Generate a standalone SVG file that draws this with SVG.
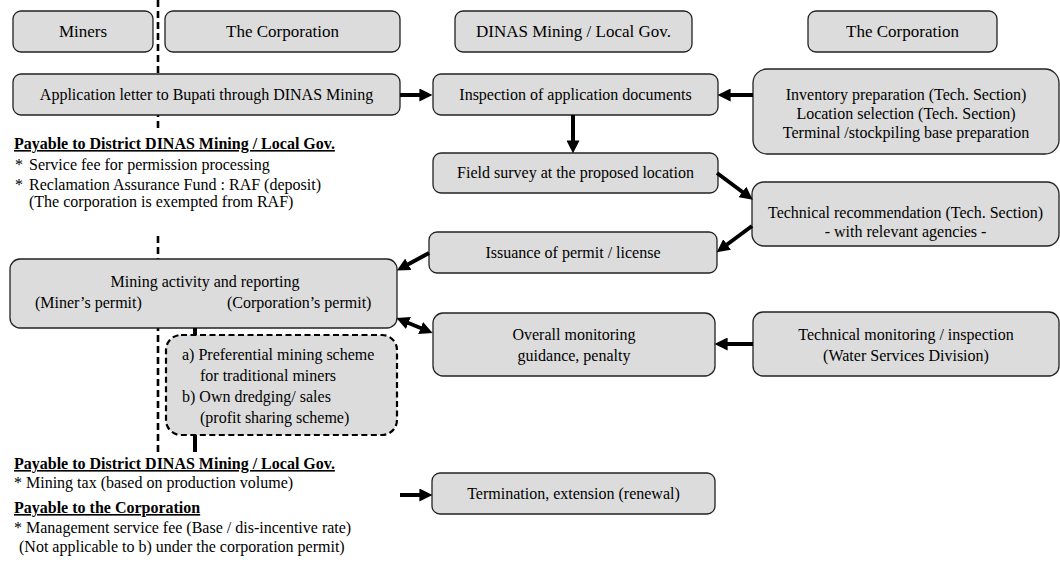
<svg xmlns="http://www.w3.org/2000/svg" width="1060" height="574" viewBox="0 0 1060 574">
  <style>
    .box { fill: #dcdcdc; stroke: #222; stroke-width: 1.3; }
    .dbox { fill: #dcdcdc; stroke: #000; stroke-width: 2.2; stroke-dasharray: 6 3.5; }
    .t { font-family: "Liberation Serif", "Times New Roman", serif; font-size: 16px; fill: #000; }
    .h { font-size: 17px; }
    .c { text-anchor: middle; }
    .u { font-weight: bold; text-decoration: underline; }
    .arrow { stroke: #000; stroke-width: 4; fill: none; }
    .lane { stroke: #000; stroke-width: 2.6; stroke-dasharray: 7 4; fill: none; }
    .bar { stroke: #000; stroke-width: 4; fill: none; }
  </style>
  <defs>
    <marker id="head" viewBox="0 0 10 10" refX="2" refY="5" markerWidth="13" markerHeight="13" markerUnits="userSpaceOnUse" orient="auto-start-reverse">
      <path d="M0,0 L10,5 L0,10 z" fill="#000"/>
    </marker>
  </defs>

  <rect width="1060" height="574" fill="#fff"/>

  <!-- lane divider between miners and the corporation -->
  <g id="lanes">
    <line class="lane" x1="158" y1="0" x2="158" y2="130"/>
    <line class="lane" x1="158" y1="236" x2="158" y2="452"/>
  </g>

  <!-- column headers -->
  <g id="hdr-miners">
    <rect class="box" x="13" y="11" width="140" height="41" rx="8"/>
    <text class="t h c" x="83" y="37">Miners</text>
  </g>
  <g id="hdr-corp-left">
    <rect class="box" x="165" y="11" width="235" height="41" rx="8"/>
    <text class="t h c" x="282.5" y="37">The Corporation</text>
  </g>
  <g id="hdr-dinas">
    <rect class="box" x="455" y="11" width="237" height="41" rx="8"/>
    <text class="t h c" x="573.5" y="37">DINAS Mining / Local Gov.</text>
  </g>
  <g id="hdr-corp-right">
    <rect class="box" x="808" y="11" width="189" height="41" rx="8"/>
    <text class="t h c" x="902.5" y="37">The Corporation</text>
  </g>

  <!-- process steps -->
  <g id="application">
    <rect class="box" x="13" y="74" width="387" height="41" rx="8"/>
    <text class="t c" x="206.5" y="100">Application letter to Bupati through DINAS Mining</text>
  </g>
  <g id="inspection">
    <rect class="box" x="433" y="74" width="285" height="41" rx="8"/>
    <text class="t c" x="575.5" y="100">Inspection of application documents</text>
  </g>
  <g id="inventory">
    <rect class="box" x="753" y="69" width="306" height="85" rx="14"/>
    <text class="t c" x="906" y="100">Inventory preparation (Tech. Section)</text>
    <text class="t c" x="906" y="119">Location selection (Tech. Section)</text>
    <text class="t c" x="906" y="138">Terminal /stockpiling base preparation</text>
  </g>
  <g id="field-survey">
    <rect class="box" x="433" y="153" width="285" height="40" rx="8"/>
    <text class="t c" x="575.5" y="178">Field survey at the proposed location</text>
  </g>
  <g id="tech-recommendation">
    <rect class="box" x="752" y="182" width="307" height="64" rx="12"/>
    <text class="t c" x="905.5" y="218">Technical recommendation (Tech. Section)</text>
    <text class="t c" x="905.5" y="237">- with relevant agencies -</text>
  </g>
  <g id="issuance">
    <rect class="box" x="429" y="232" width="288" height="41" rx="8"/>
    <text class="t c" x="573" y="258">Issuance of permit / license</text>
  </g>
  <g id="mining-activity">
    <rect class="box" x="10" y="259" width="387" height="69" rx="10"/>
    <text class="t c" x="205" y="287">Mining activity and reporting</text>
    <text class="t" x="35" y="308">(Miner’s permit)</text>
    <text class="t" x="227" y="308">(Corporation’s permit)</text>
  </g>
  <g id="overall-monitoring">
    <rect class="box" x="433" y="313" width="282" height="63" rx="10"/>
    <text class="t c" x="574" y="340">Overall monitoring</text>
    <text class="t c" x="574" y="361">guidance, penalty</text>
  </g>
  <g id="tech-monitoring">
    <rect class="box" x="753" y="312" width="306" height="64" rx="10"/>
    <text class="t c" x="906" y="340">Technical monitoring / inspection</text>
    <text class="t c" x="906" y="361">(Water Services Division)</text>
  </g>
  <g id="termination">
    <rect class="box" x="432" y="473" width="283" height="41" rx="8"/>
    <text class="t c" x="573.5" y="499">Termination, extension (renewal)</text>
  </g>

  <!-- permit options under the corporation permit -->
  <g id="corp-link">
    <line class="bar" x1="195" y1="328" x2="195" y2="452"/>
  </g>
  <g id="schemes">
    <rect class="dbox" x="166" y="335" width="231" height="100" rx="15"/>
    <text class="t" x="182" y="360">a) Preferential mining scheme</text>
    <text class="t" x="200" y="381">for traditional miners</text>
    <text class="t" x="182" y="402">b) Own dredging/ sales</text>
    <text class="t" x="200" y="423">(profit sharing scheme)</text>
  </g>

  <!-- payment notes -->
  <g id="fees-permission">
    <rect x="10" y="132" width="330" height="100" fill="#fff"/>
    <text class="t u" x="14" y="149">Payable to District DINAS Mining / Local Gov.</text>
    <text class="t" x="15" y="170">*</text>
    <text class="t" x="29" y="170">Service fee for permission processing</text>
    <text class="t" x="15" y="190">*</text>
    <text class="t" x="29" y="190">Reclamation Assurance Fund : RAF (deposit)</text>
    <text class="t" x="29" y="207">(The corporation is exempted from RAF)</text>
  </g>
  <g id="fees-operation">
    <text class="t u" x="14" y="469">Payable to District DINAS Mining / Local Gov.</text>
    <text class="t" x="14" y="488">* Mining tax (based on production volume)</text>
    <text class="t u" x="14" y="513">Payable to the Corporation</text>
    <text class="t" x="14" y="533">* Management service fee (Base / dis-incentive rate)</text>
    <text class="t" x="19" y="552">(Not applicable to b) under the corporation permit)</text>
  </g>

  <!-- connectors -->
  <g id="connectors">
    <line class="arrow" x1="400" y1="95" x2="422" y2="95" marker-end="url(#head)"/>
    <line class="arrow" x1="753" y1="95" x2="728" y2="95" marker-end="url(#head)"/>
    <line class="arrow" x1="573" y1="115" x2="573" y2="143" marker-end="url(#head)"/>
    <line class="arrow" x1="717" y1="173" x2="744.5" y2="193.5" marker-end="url(#head)"/>
    <line class="arrow" x1="752" y1="226" x2="725" y2="246" marker-end="url(#head)"/>
    <line class="arrow" x1="429" y1="253" x2="406" y2="265.5" marker-start="none" marker-end="url(#head)"/>
    <line class="arrow" x1="406" y1="322" x2="423" y2="329" marker-start="url(#head)" marker-end="url(#head)"/>
    <line class="arrow" x1="753" y1="344" x2="725" y2="344" marker-end="url(#head)"/>
    <line class="arrow" x1="400" y1="495" x2="422" y2="495" marker-end="url(#head)"/>
  </g>
</svg>
